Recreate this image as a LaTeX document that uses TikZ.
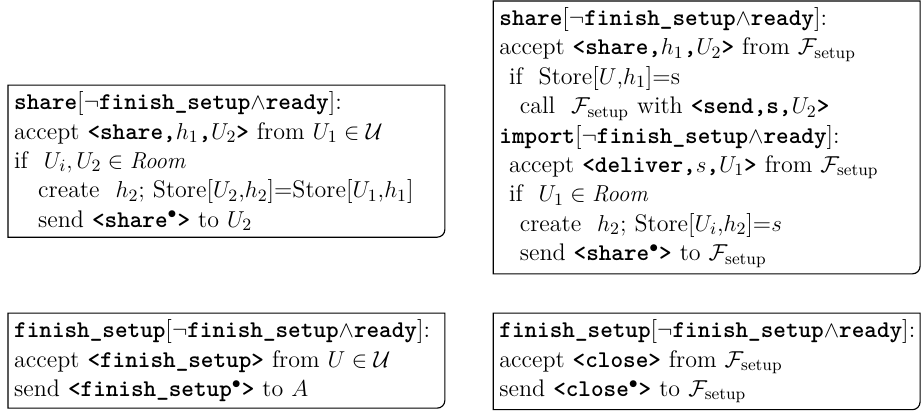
\documentclass[tikz,border=0pt]{standalone}
\usepackage{amsmath}
\usepackage{amssymb}
\usetikzlibrary{positioning}

\newcommand{\tb}[1]{\texttt{\bfseries #1}}
\newcommand{\Fs}{\mathcal{F}_{\text{setup}}}
\newcommand{\guard}{[$\neg$\tb{finish\_setup}$\wedge$\tb{ready}]:}

\tikzset{
  ruletext/.style={anchor=north west, align=left, inner xsep=3pt, inner ysep=3.2pt,
    font=\fontsize{12.5pt}{15.3pt}\selectfont},
  frame/.style={draw, line width=0.6pt},
}

\begin{document}
\begin{tikzpicture}
  \useasboundingbox (0,0) rectangle (480pt,-216.7pt);

  % user side
  \node[ruletext, text width=221pt] (shareU) at (4.2pt,-44.3pt) {%
    \tb{share}\guard\\
    accept \tb{<share,}$h_1$\tb{,}$U_2$\tb{>} from $U_1\in\mathcal{U}$\\
    if\ \ $U_i,U_2\in\mathit{Room}$\\
    \hspace*{1em}create\ \ $h_2$; Store[$U_2$,$h_2$]=Store[$U_1$,$h_1$]\\
    \hspace*{1em}send \tb{<share}$^\bullet$\tb{>} to $U_2$};

  \node[ruletext, text width=221pt] (closeU) at (4.2pt,-163pt) {%
    \tb{finish\_setup}\guard\\
    accept \tb{<finish\_setup>} from $U\in\mathcal{U}$\\
    send \tb{<finish\_setup}$^\bullet$\tb{>} to $A$};

  % functionality side
  \node[ruletext, text width=215.8pt] (shareF) at (256.8pt,-0.5pt) {%
    \tb{share}\guard\\
    accept \tb{<share,}$h_1$\tb{,}$U_2$\tb{>} from $\Fs$\\
    \hspace*{0.4em}if\ \ Store[$U$,$h_1$]=s\\
    \hspace*{0.85em}call\ \ $\Fs$ with \tb{<send,s,}$U_2$\tb{>}\\
    \tb{import}\guard\\
    \hspace*{0.4em}accept \tb{<deliver,}$s$\tb{,}$U_1$\tb{>} from $\Fs$\\
    \hspace*{0.4em}if\ \ $U_1\in\mathit{Room}$\\
    \hspace*{0.85em}create\ \ $h_2$; Store[$U_i$,$h_2$]=$s$\\
    \hspace*{0.85em}send \tb{<share}$^\bullet$\tb{>} to $\Fs$\\[2pt]};

  \node[ruletext, text width=215.8pt] (closeF) at (256.8pt,-163pt) {%
    \tb{finish\_setup}\guard\\
    accept \tb{<close>} from $\Fs$\\
    send \tb{<close}$^\bullet$\tb{>} to $\Fs$};

  \foreach \b in {shareU,closeU,shareF,closeF}
    \draw[frame] (\b.north west) -- (\b.north east) -- ([yshift=4pt]\b.south east)
      arc[start angle=0, end angle=-90, radius=4pt] -- (\b.south west) -- cycle;
\end{tikzpicture}
\end{document}
